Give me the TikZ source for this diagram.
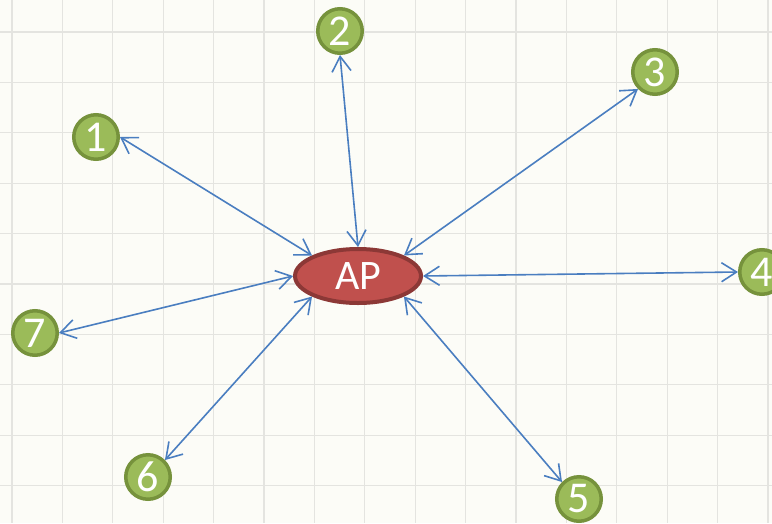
\documentclass[tikz,border=0pt]{standalone}
\usepackage{fontspec}
\setmainfont{Carlito}
\usetikzlibrary{arrows.meta,shapes.geometric}
\definecolor{bgc}{HTML}{FCFCF7}
\definecolor{gridc}{HTML}{E4E4E0}
\definecolor{gfill}{HTML}{9BBB59}
\definecolor{gline}{HTML}{76923C}
\definecolor{rfill}{HTML}{C0504D}
\definecolor{rline}{HTML}{8C3836}
\definecolor{bline}{HTML}{4A7EC0}
\tikzset{
  sta/.style={circle, fill=gfill, draw=gline, line width=3.5pt, minimum size=44.5pt, inner sep=0pt,
    text=white, font=\fontsize{44}{44}\selectfont},
  apnode/.style={ellipse, fill=rfill, draw=rline, line width=4pt, minimum width=126pt, minimum height=54pt,
    inner sep=0pt, text=white, font=\fontsize{42}{42}\selectfont},
  link/.style={draw=bline, line width=1.6pt, {Straight Barb[length=15pt,width=19pt,line width=1.6pt]}-{Straight Barb[length=15pt,width=19pt,line width=1.6pt]}}
}
\begin{document}
\begin{tikzpicture}[x=1pt,y=-1pt]
\fill[bgc] (0,0) rectangle (772,523);
\useasboundingbox (0,0) rectangle (772,523);
\foreach \k in {0,...,15} {
  \draw[gridc, line width=1.3pt] ({12+50.4*\k},0) -- ({12+50.4*\k},523);
}
\foreach \k in {0,...,9} {
  \draw[gridc, line width=1.3pt] (0,{32+50.4*\k}) -- (772,{32+50.4*\k});
}
\node[apnode] (ap) at (358,276) {AP};
\node[sta] (n1) at (96,137) {1};
\node[sta] (n2) at (340,31) {2};
\node[sta] (n3) at (655,72) {3};
\node[sta] (n4) at (762,272) {4};
\node[sta] (n5) at (579,499) {5};
\node[sta] (n6) at (148,477) {6};
\node[sta] (n7) at (35,333) {7};
\draw[link] (n1.east) -- (ap.north west);
\draw[link] (n2.south) -- (ap.north);
\draw[link] (n3.south west) -- (ap.north east);
\draw[link] (n4.west) -- (ap.east);
\draw[link] (n5.north west) -- (ap.south east);
\draw[link] (n6.north east) -- (ap.south west);
\draw[link] (n7.east) -- (ap.west);
\end{tikzpicture}
\end{document}
